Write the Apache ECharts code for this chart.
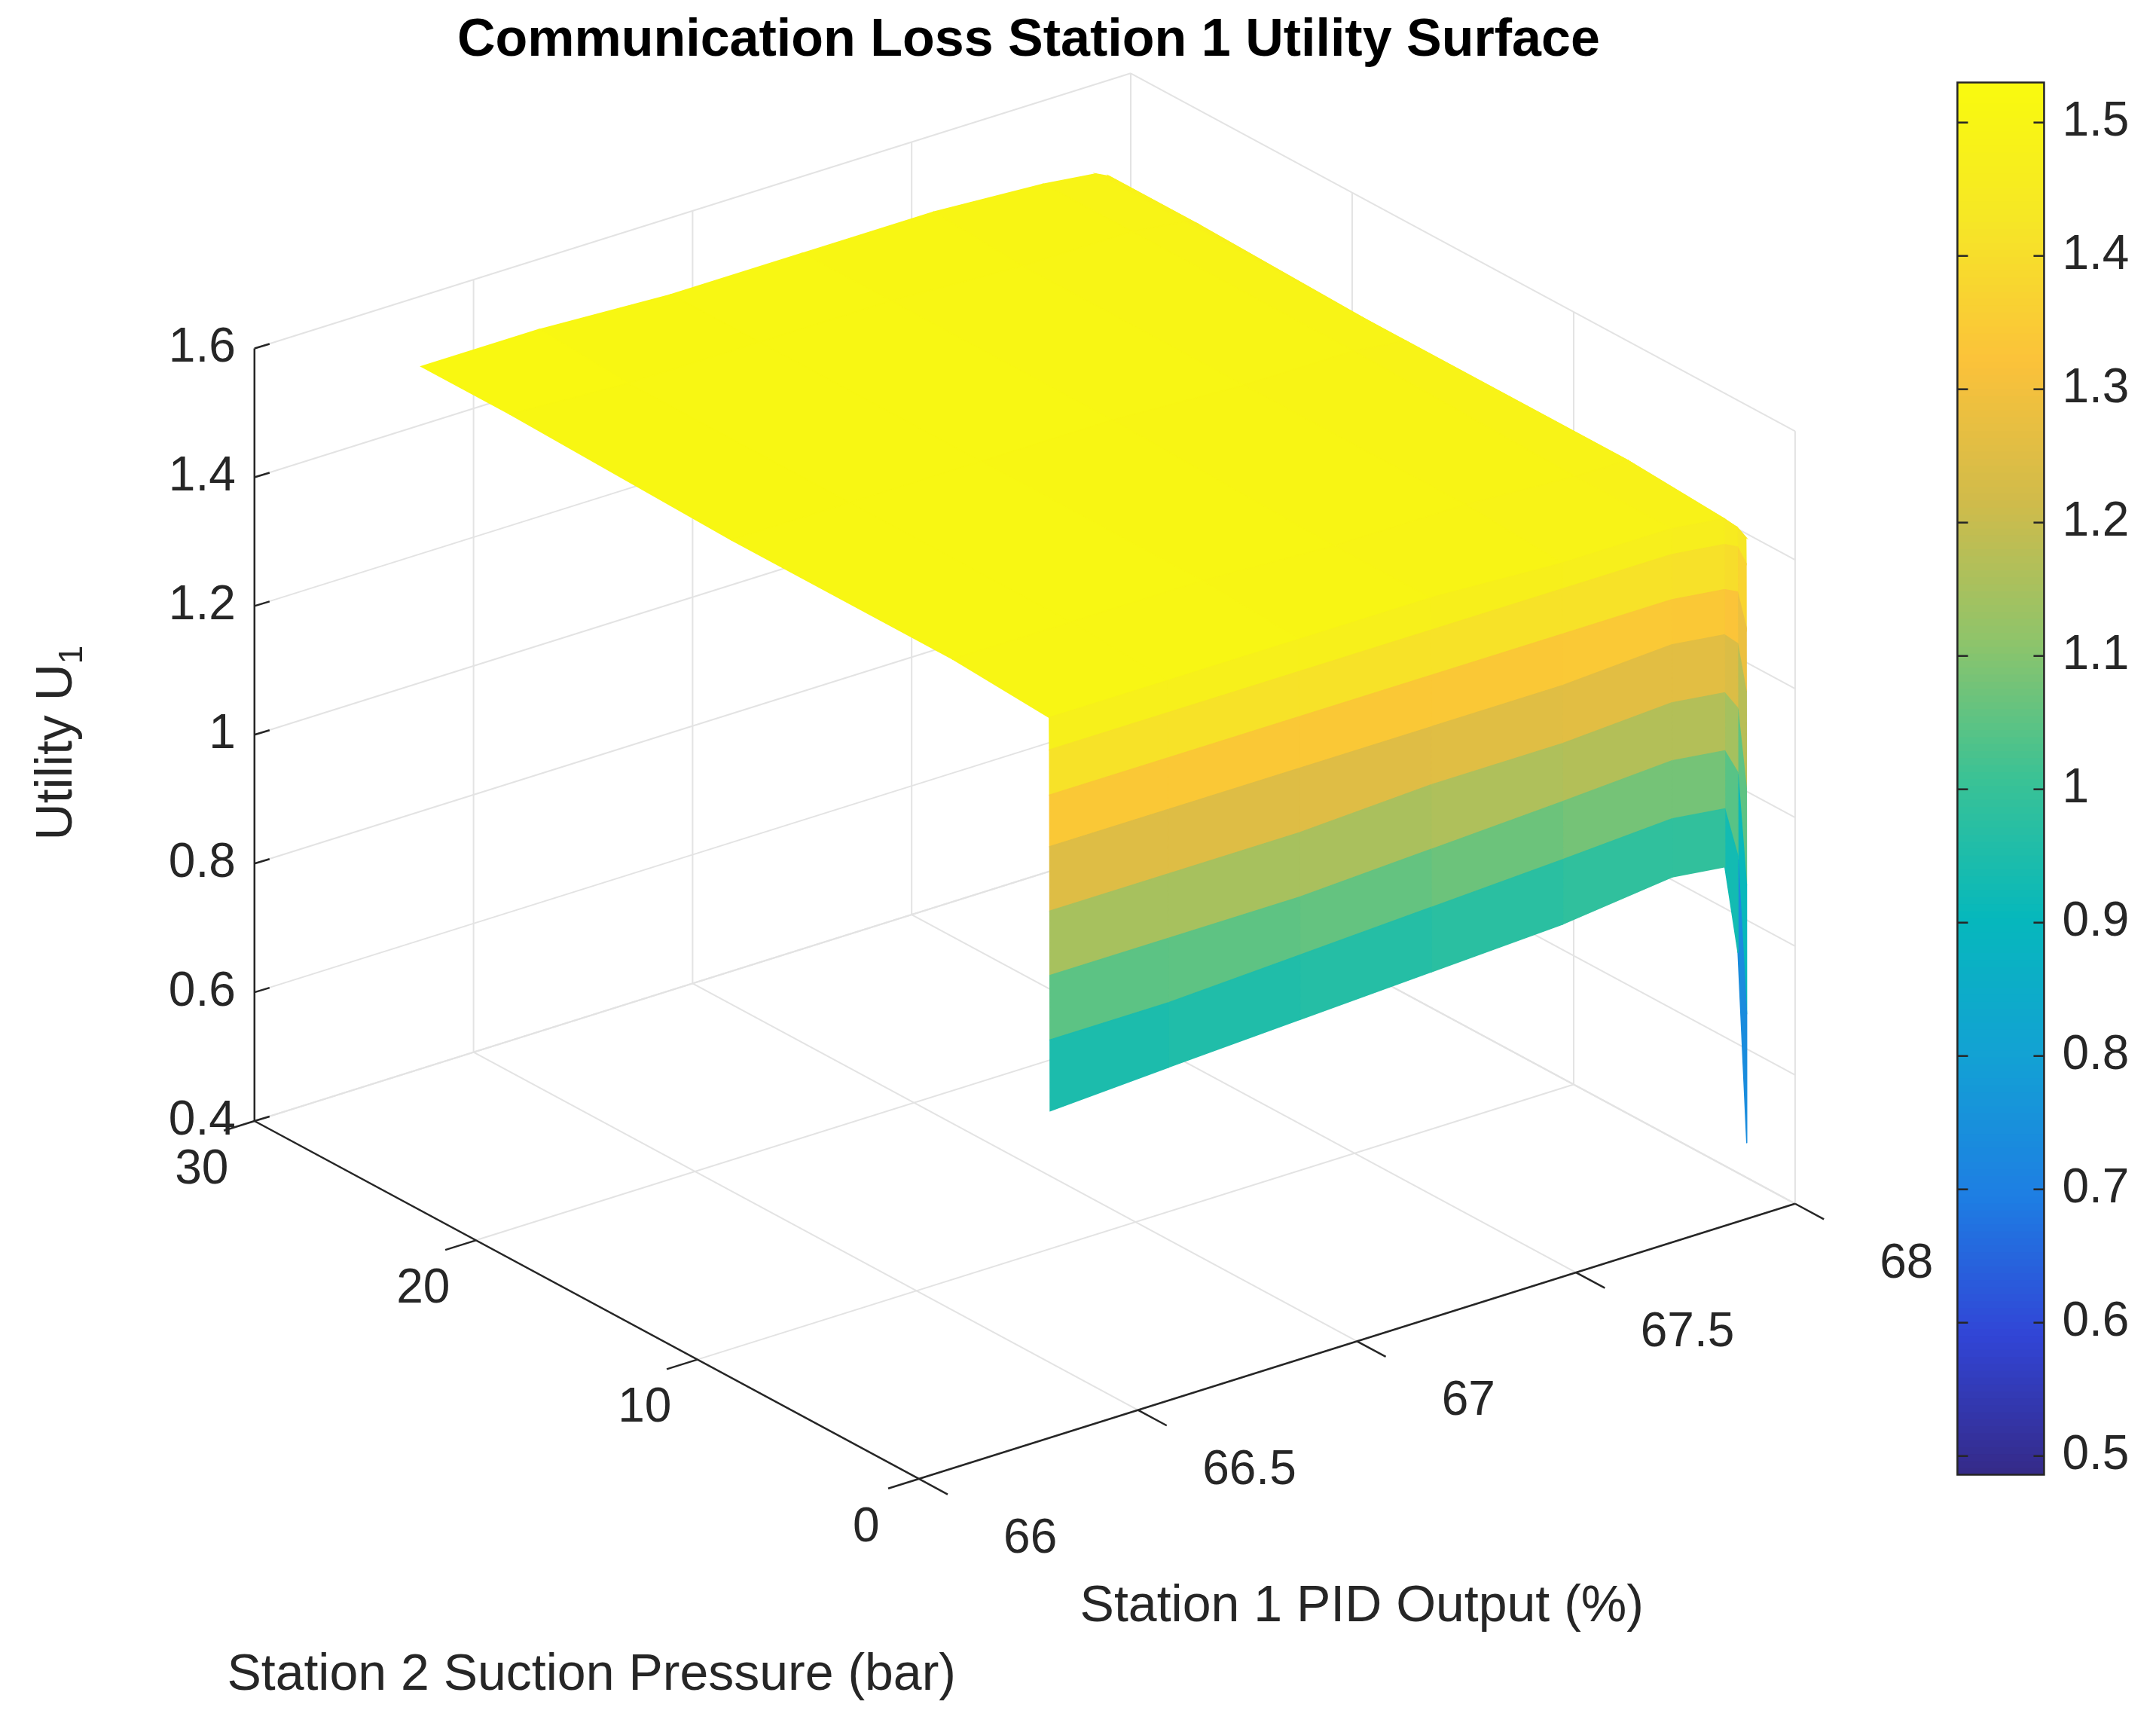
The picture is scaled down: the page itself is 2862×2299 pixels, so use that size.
<!DOCTYPE html>
<html lang="en">
<head>
<meta charset="UTF-8">
<title>Communication Loss Station 1 Utility Surface</title>
<script src="https://cdn.jsdelivr.net/npm/echarts@6/dist/echarts.min.js"></script>
<style>html,body{margin:0;height:100%;background:#fff}</style>
</head>
<body>
<div id="main" style="width:2862px;height:2299px;"></div>
<script>
// ---- data ----
const pidOut = [66.33, 66.6, 66.9, 67.2, 67.5, 67.75, 67.87, 67.9, 67.92];   // Station 1 PID Output (%)
const suction = [0.6, 0.605, 0.61, 0.615, 0.62, 0.625, 0.63, 0.64, 5, 15, 25, 29]; // Station 2 Suction Pressure (bar)
const utility = [ // rows follow suction, columns follow pidOut
  [0.89, 0.90, 0.91, 0.92, 0.93, 0.95, 0.94, 0.80, 0.50],
  [1.00, 1.00, 1.01, 1.02, 1.03, 1.04, 1.03, 0.95, 0.70],
  [1.10, 1.10, 1.10, 1.11, 1.12, 1.13, 1.12, 1.08, 0.90],
  [1.20, 1.20, 1.20, 1.21, 1.21, 1.22, 1.21, 1.18, 1.05],
  [1.30, 1.30, 1.30, 1.30, 1.30, 1.31, 1.30, 1.28, 1.20],
  [1.38, 1.38, 1.38, 1.38, 1.38, 1.38, 1.37, 1.36, 1.30],
  [1.45, 1.45, 1.45, 1.45, 1.45, 1.45, 1.44, 1.43, 1.40],
  [1.50, 1.50, 1.50, 1.50, 1.49, 1.49, 1.48, 1.46, 1.44],
  [1.51, 1.51, 1.51, 1.50, 1.50, 1.49, 1.49, 1.47, 1.45],
  [1.51, 1.51, 1.51, 1.51, 1.50, 1.50, 1.49, 1.47, 1.45],
  [1.52, 1.51, 1.51, 1.51, 1.50, 1.50, 1.49, 1.48, 1.46],
  [1.52, 1.52, 1.51, 1.51, 1.51, 1.50, 1.49, 1.48, 1.46]
];
const xTicks = [66, 66.5, 67, 67.5, 68];
const yTicks = [0, 10, 20, 30];
const zTicks = [0.4, 0.6, 0.8, 1, 1.2, 1.4, 1.6];
const cbTicks = [0.5, 0.6, 0.7, 0.8, 0.9, 1, 1.1, 1.2, 1.3, 1.4, 1.5];
const parula = ['#352a87', '#3145d6', '#1e7ee3', '#13a1d4', '#06b8bc', '#3ac295', '#8fc46a', '#d1bb4a', '#fbc23a', '#f6e626', '#f9fb0e'];

// ---- view: MATLAB-like projection ----
const S = 1.826;
function proj(x, y, z) {
  const a = x - 66, b = y, c = z - 0.4;
  return [S * (668 + 318.5 * a - 16.1 * b), S * (1075 - 100 * a - 8.67 * b - 468 * c)];
}

// quads, far ones first
const quads = [];
for (let j = 0; j < suction.length - 1; j++) {
  for (let i = 0; i < pidOut.length - 1; i++) {
    const avg = (utility[j][i] + utility[j][i + 1] + utility[j + 1][i] + utility[j + 1][i + 1]) / 4;
    const depth = (pidOut[i] + pidOut[i + 1] - 132) / 4 + (suction[j] + suction[j + 1]) / 60;
    quads.push({ value: [avg, i, j], depth: depth });
  }
}
quads.sort((p, q) => q.depth - p.depth);

const gridC = '#e3e3e3', axC = '#262626';
const tickFont = 64 + 'px Arial, "Liberation Sans", sans-serif';

function line(p, q, color, w) {
  return { type: 'line', shape: { x1: p[0], y1: p[1], x2: q[0], y2: q[1] }, style: { stroke: color, lineWidth: w }, silent: true };
}
function label(t, pos, align, vAlign) {
  return { type: 'text', x: pos[0], y: pos[1], style: { text: t, font: tickFont, fill: axC, align: align, verticalAlign: vAlign } };
}

function renderAxes() {
  const ch = [];
  xTicks.forEach(x => {
    ch.push(line(proj(x, 0, 0.4), proj(x, 30, 0.4), gridC, 2));
    ch.push(line(proj(x, 30, 0.4), proj(x, 30, 1.6), gridC, 2));
  });
  yTicks.forEach(y => {
    ch.push(line(proj(66, y, 0.4), proj(68, y, 0.4), gridC, 2));
    ch.push(line(proj(68, y, 0.4), proj(68, y, 1.6), gridC, 2));
  });
  zTicks.forEach(z => {
    ch.push(line(proj(66, 30, z), proj(68, 30, z), gridC, 2));
    ch.push(line(proj(68, 30, z), proj(68, 0, z), gridC, 2));
  });
  // axis lines
  ch.push(line(proj(66, 30, 0.4), proj(66, 30, 1.6), axC, 2.5));
  ch.push(line(proj(66, 0, 0.4), proj(68, 0, 0.4), axC, 2.5));
  ch.push(line(proj(66, 0, 0.4), proj(66, 30, 0.4), axC, 2.5));
  zTicks.forEach(z => {
    const p = proj(66, 30, z);
    ch.push(line(p, [p[0] + 20, p[1] - 6], axC, 2.5));
    ch.push(label(String(z), [p[0] - 25, p[1]], 'right', 'middle'));
  });
  xTicks.forEach(x => {
    const p = proj(x, 0, 0.4), q = proj(x, -1.3, 0.4);
    ch.push(line(p, q, axC, 2.5));
    const l = proj(x, -3.5, 0.4);
    ch.push(label(String(x), [l[0] + 45, l[1] + 25], 'center', 'middle'));
  });
  yTicks.forEach(y => {
    const p = proj(66, y, 0.4), q = proj(65.93, y, 0.4);
    ch.push(line(p, q, axC, 2.5));
    ch.push(label(String(y), [p[0] - 70, p[1] + 65], 'center', 'middle'));
  });
  return { type: 'group', children: ch };
}

function renderQuad(params, api) {
  const i = api.value(1), j = api.value(2);
  const pts = [
    proj(pidOut[i], suction[j], utility[j][i]),
    proj(pidOut[i + 1], suction[j], utility[j][i + 1]),
    proj(pidOut[i + 1], suction[j + 1], utility[j + 1][i + 1]),
    proj(pidOut[i], suction[j + 1], utility[j + 1][i])
  ];
  const c = api.visual('color');
  return { type: 'polygon', shape: { points: pts }, style: { fill: c, stroke: c, lineWidth: 1.5 } };
}

// colorbar geometry
const cbL = 1423 * S, cbR = 1486 * S, cbTop = 60 * S, cbBot = 1072 * S, cbMin = 0.486, cbMax = 1.53;
const cbY = v => cbBot - (v - cbMin) / (cbMax - cbMin) * (cbBot - cbTop);
const cbLevels = [];
for (let k = 0; k < 200; k++) cbLevels.push([cbMin + (k + 0.5) * (cbMax - cbMin) / 200]);
const cbStep = (cbMax - cbMin) / 200;

function renderBar(params, api) {
  const v = api.value(0);
  const y1 = cbY(v + cbStep / 2), y2 = cbY(v - cbStep / 2);
  const ch = [{ type: 'rect', shape: { x: cbL, y: y1 - 0.5, width: cbR - cbL, height: y2 - y1 + 1 }, style: { fill: api.visual('color') } }];
  if (params.dataIndex === cbLevels.length - 1) {
    ch.push({ type: 'rect', shape: { x: cbL, y: cbTop, width: cbR - cbL, height: cbBot - cbTop }, style: { fill: 'none', stroke: axC, lineWidth: 2.5 } });
    cbTicks.forEach(t => {
      const y = cbY(t);
      ch.push(line([cbL, y], [cbL + 14, y], axC, 2.5));
      ch.push(line([cbR - 14, y], [cbR, y], axC, 2.5));
      ch.push(label(String(t), [cbR + 24, y], 'left', 'middle'));
    });
  }
  return { type: 'group', children: ch };
}

const myChart = echarts.init(document.getElementById('main'), null, { renderer: 'canvas' });
myChart.setOption({
  animation: false,
  title: {
    text: 'Communication Loss Station 1 Utility Surface', left: 745 * S, top: 8 * S, textAlign: 'center',
    textStyle: { fontSize: 70, fontWeight: 'bold', color: '#000', fontFamily: 'Arial, "Liberation Sans"' }
  },
  visualMap: { show: false, min: cbMin, max: cbMax, dimension: 0, seriesIndex: [1, 2], inRange: { color: parula } },
  graphic: [
    { type: 'text', x: 990 * S, y: 1168 * S, style: { text: 'Station 1 PID Output (%)', font: '68px Arial, "Liberation Sans"', fill: axC, align: 'center', verticalAlign: 'middle' } },
    { type: 'text', x: 430 * S, y: 1218 * S, style: { text: 'Station 2 Suction Pressure (bar)', font: '68px Arial, "Liberation Sans"', fill: axC, align: 'center', verticalAlign: 'middle' } },
    { type: 'text', x: 42 * S, y: 540 * S, rotation: Math.PI / 2,
      style: { text: 'Utility U{s|1}', font: '68px Arial, "Liberation Sans"', fill: axC, align: 'center', verticalAlign: 'middle',
        rich: { s: { fontSize: 44, fontFamily: 'Arial', fill: axC, padding: [40, 0, 0, 0] } } } }
  ],
  series: [
    { type: 'custom', coordinateSystem: 'none', data: [[0]], renderItem: renderAxes, silent: true },
    { type: 'custom', coordinateSystem: 'none', data: quads.map(q => q.value), renderItem: renderQuad, silent: true },
    { type: 'custom', coordinateSystem: 'none', data: cbLevels, renderItem: renderBar, silent: true }
  ]
});
</script>
</body>
</html>
